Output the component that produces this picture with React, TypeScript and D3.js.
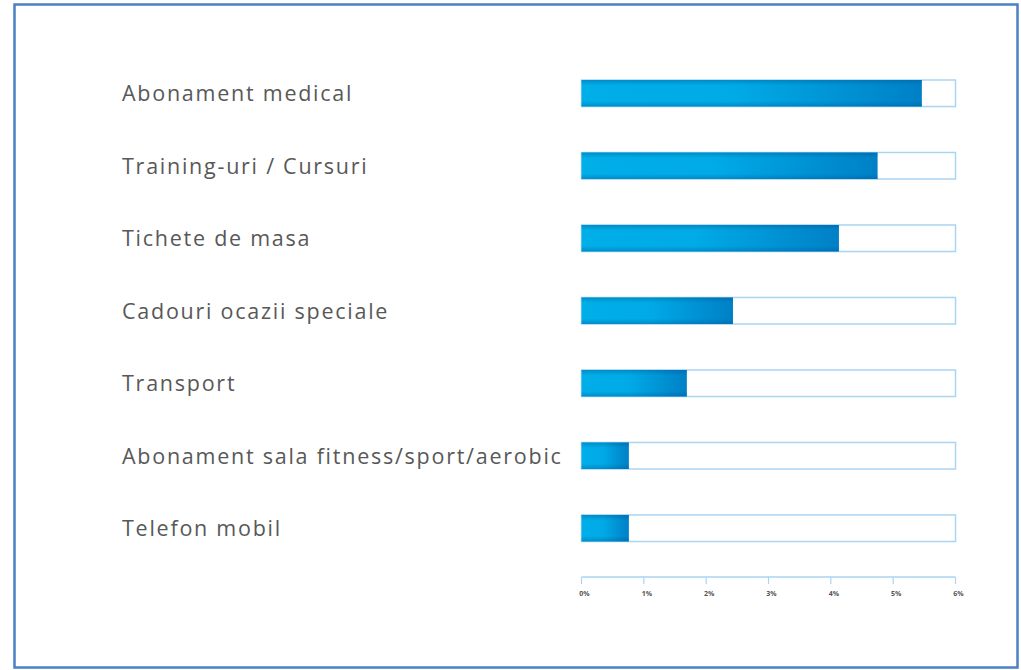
import React from "react";
import * as d3 from "d3";

const categories = [
  "Abonament medical",
  "Training-uri / Cursuri",
  "Tichete de masa",
  "Cadouri ocazii speciale",
  "Transport",
  "Abonament sala fitness/sport/aerobic",
  "Telefon mobil",
];
const values = [5.46, 4.75, 4.13, 2.43, 1.69, 0.76, 0.76];
const tickValues = [0, 1, 2, 3, 4, 5, 6];
const tickLabels = ["0%", "1%", "2%", "3%", "4%", "5%", "6%"];

const W = 1021;
const H = 670;

export default function App() {
  const x = d3.scaleLinear().domain([0, 6]).range([581.5, 955.5]);
  const y = d3
    .scaleBand<string>()
    .domain(categories)
    .range([80, 541.5])
    .paddingInner(0.634)
    .paddingOuter(0);
  const bh = y.bandwidth();
  const axisY = 577;

  return (
    <svg
      width={W}
      height={H}
      style={{ position: "fixed", left: 0, top: 0, background: "#fff" }}
    >
      <defs>
        <linearGradient id="hg" x1="0" x2="1" y1="0" y2="0">
          <stop offset="0" stopColor="#00aee8" />
          <stop offset="0.45" stopColor="#00aae6" />
          <stop offset="1" stopColor="#0080c6" />
        </linearGradient>
        <linearGradient id="vg" x1="0" x2="0" y1="0" y2="1">
          <stop offset="0" stopColor="#004f8f" stopOpacity="0.35" />
          <stop offset="0.2" stopColor="#004f8f" stopOpacity="0" />
          <stop offset="0.8" stopColor="#004f8f" stopOpacity="0" />
          <stop offset="1" stopColor="#004f8f" stopOpacity="0.35" />
        </linearGradient>
      </defs>
      <rect x={0} y={0} width={W} height={H} fill="#fff" />
      {/* frame */}
      <rect
        x={14.5}
        y={4.5}
        width={1003}
        height={663}
        fill="none"
        stroke="#4a80c4"
        strokeWidth={2.5}
      />
      {categories.map((c, i) => {
        const yy = y(c)!;
        const x0 = x(0);
        return (
          <g key={c}>
            <text
              x={122}
              y={yy + bh / 2 + 8}
              fontFamily="'Open Sans', sans-serif"
              fontSize={21.5}
              letterSpacing={1.75}
              fill="#585858"
            >
              {c}
            </text>
            <rect
              x={x0}
              y={yy}
              width={x(6) - x0}
              height={bh}
              fill="#fff"
              stroke="#a9d5f2"
              strokeWidth={1.5}
            />
            <rect
              x={x0}
              y={yy}
              width={x(values[i]) - x0}
              height={bh}
              fill="url(#hg)"
            />
            <rect
              x={x0}
              y={yy}
              width={x(values[i]) - x0}
              height={bh}
              fill="url(#vg)"
            />
          </g>
        );
      })}
      {/* axis */}
      <line
        x1={x(0)}
        x2={x(6)}
        y1={axisY}
        y2={axisY}
        stroke="#a9d5f2"
        strokeWidth={1.5}
      />
      {tickValues.map((t, i) => (
        <g key={t}>
          <line
            x1={x(t)}
            x2={x(t)}
            y1={axisY}
            y2={axisY + 7}
            stroke="#a9d5f2"
            strokeWidth={1.2}
          />
          <text
            x={x(t) + 3}
            y={axisY + 19}
            textAnchor="middle"
            fontFamily="'Open Sans', sans-serif"
            fontSize={7}
            fontWeight={700}
            fill="#555"
          >
            {tickLabels[i]}
          </text>
        </g>
      ))}
    </svg>
  );
}
